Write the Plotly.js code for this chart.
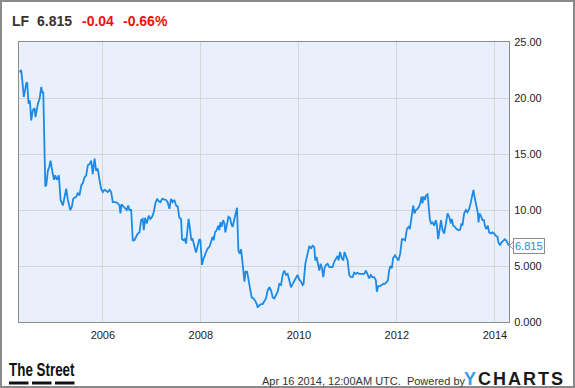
<!DOCTYPE html>
<html>
<head>
<meta charset="utf-8">
<script src="https://cdn.plot.ly/plotly-3.0.1.min.js"></script>
<style>
  html, body { margin: 0; padding: 0; background: #ffffff; }
  #chart { width: 575px; height: 388px; }
</style>
</head>
<body>
<div id="chart"></div>
<script>
// ---- Data ----
// Dates as decimal years
const years = [
  2004.302,2004.336,2004.349,2004.389,2004.438,2004.459,2004.485,2004.512,2004.540,2004.573,
  2004.608,2004.628,2004.675,2004.710,2004.744,2004.765,2004.785,2004.811,2004.826,2004.846,
  2004.879,2004.907,2004.934,2004.968,2005.001,2005.030,2005.062,2005.103,2005.138,2005.185,
  2005.219,2005.254,2005.286,2005.335,2005.368,2005.397,2005.458,2005.490,2005.525,2005.560,
  2005.592,2005.627,2005.662,2005.694,2005.729,2005.764,2005.796,2005.831,2005.865,2005.898,
  2005.933,2005.967,2006.000,2006.035,2006.102,2006.137,2006.171,2006.204,2006.259,2006.306,
  2006.340,2006.361,2006.381,2006.422,2006.457,2006.489,2006.518,2006.544,2006.579,2006.612,
  2006.646,2006.681,2006.714,2006.748,2006.783,2006.815,2006.836,2006.864,2006.897,2006.938,
  2006.972,2007.007,2007.040,2007.074,2007.109,2007.142,2007.176,2007.211,2007.258,2007.293,
  2007.325,2007.360,2007.394,2007.427,2007.462,2007.496,2007.529,2007.564,2007.598,2007.619,
  2007.645,2007.672,2007.700,2007.733,2007.753,2007.782,2007.808,2007.835,2007.870,2007.904,
  2007.937,2007.971,2007.992,2008.026,2008.059,2008.073,2008.108,2008.141,2008.175,2008.210,
  2008.243,2008.263,2008.291,2008.324,2008.359,2008.379,2008.400,2008.426,2008.455,2008.481,
  2008.501,2008.528,2008.563,2008.597,2008.618,2008.650,2008.685,2008.720,2008.740,2008.767,
  2008.793,2008.822,2008.842,2008.868,2008.889,2008.915,2008.944,2008.977,2009.005,2009.038,
  2009.072,2009.107,2009.140,2009.160,2009.195,2009.229,2009.262,2009.297,2009.331,2009.364,
  2009.398,2009.433,2009.466,2009.500,2009.535,2009.568,2009.602,2009.637,2009.670,2009.704,
  2009.739,2009.772,2009.806,2009.841,2009.874,2009.908,2009.943,2009.975,2010.010,2010.045,
  2010.077,2010.098,2010.132,2010.159,2010.194,2010.214,2010.249,2010.281,2010.316,2010.336,
  2010.363,2010.391,2010.418,2010.444,2010.473,2010.499,2010.526,2010.554,2010.587,2010.622,
  2010.656,2010.689,2010.724,2010.758,2010.791,2010.811,2010.840,2010.872,2010.907,2010.934,
  2010.962,2010.995,2011.030,2011.064,2011.097,2011.131,2011.166,2011.199,2011.233,2011.268,
  2011.301,2011.335,2011.370,2011.403,2011.437,2011.472,2011.504,2011.539,2011.574,2011.594,
  2011.621,2011.655,2011.688,2011.723,2011.757,2011.790,2011.818,2011.845,2011.871,2011.900,
  2011.926,2011.967,2011.994,2012.035,2012.069,2012.104,2012.130,2012.171,2012.206,2012.238,
  2012.267,2012.300,2012.334,2012.361,2012.389,2012.422,2012.456,2012.483,2012.503,2012.524,
  2012.544,2012.573,2012.593,2012.626,2012.646,2012.675,2012.701,2012.728,2012.762,2012.797,
  2012.817,2012.844,2012.864,2012.899,2012.932,2012.966,2013.001,2013.034,2013.068,2013.103,
  2013.123,2013.150,2013.184,2013.217,2013.258,2013.292,2013.319,2013.339,2013.374,2013.409,
  2013.441,2013.476,2013.510,2013.543,2013.563,2013.592,2013.625,2013.653,2013.666,2013.686,
  2013.715,2013.747,2013.776,2013.802,2013.829,2013.857,2013.884,2013.918,2013.951,2013.986,
  2014.020,2014.053,2014.073,2014.108,2014.134,2014.169,2014.203,2014.230,2014.288
];
// LF share price (USD)
const price = [
  22.3,22.5,22.0,20.1,21.3,21.4,19.5,19.8,18.0,18.9,
  19.1,18.3,19.5,19.9,21.0,20.5,20.5,15.0,12.1,12.2,
  13.5,13.8,14.4,13.5,12.7,13.1,12.7,13.1,10.9,10.4,
  11.2,11.9,10.9,10.0,10.3,11.0,11.2,11.5,11.3,12.2,
  12.4,12.9,13.1,14.0,14.1,14.4,13.2,14.6,13.5,13.7,
  12.7,11.9,11.6,11.8,11.6,11.8,11.6,10.7,10.7,10.6,
  10.4,9.7,10.5,10.3,10.1,10.0,10.4,10.0,10.0,7.3,
  7.3,7.7,7.9,8.0,9.1,9.2,8.2,9.3,8.8,9.5,
  9.2,9.4,9.8,10.6,11.0,10.8,10.7,11.0,10.9,10.9,
  10.7,10.1,11.0,10.7,10.9,10.4,10.3,9.3,9.2,7.4,
  7.3,7.4,7.0,8.5,9.2,8.3,7.3,7.4,6.7,6.2,
  6.8,7.4,7.3,5.1,5.7,5.8,6.25,6.55,6.7,7.1,
  7.6,7.3,8.0,8.2,8.6,8.2,8.9,8.5,9.1,8.8,
  8.0,8.6,9.4,9.3,8.8,8.5,9.2,9.8,10.2,6.4,
  6.1,6.5,5.2,4.6,3.6,4.5,4.5,3.6,3.1,2.2,
  2.1,1.9,1.6,1.3,1.5,1.6,1.6,1.9,2.1,2.8,
  3.1,2.8,2.2,2.1,2.5,2.7,3.4,3.3,4.2,4.6,
  4.2,4.3,3.7,3.1,3.4,3.7,3.9,4.2,3.8,3.6,
  3.3,3.4,5.2,5.7,6.4,6.8,6.55,6.8,6.7,5.5,
  5.8,5.2,4.6,5.2,4.8,4.0,4.8,5.1,5.2,4.9,
  4.9,4.9,5.4,5.7,5.9,5.5,6.25,5.75,5.5,6.25,
  5.95,5.5,4.2,4.0,4.0,4.4,4.3,4.4,4.3,4.3,
  4.3,4.3,4.6,4.2,3.9,4.2,4.0,4.0,3.7,2.7,
  3.2,3.2,3.3,3.4,3.4,3.6,3.7,4.6,5.0,4.8,
  5.7,5.95,5.75,5.5,6.1,7.4,7.4,7.3,8.3,8.5,
  8.3,9.4,10.4,9.7,10.0,10.1,10.3,10.7,11.2,10.6,
  11.2,10.9,11.3,11.4,10.7,9.1,8.8,8.9,8.6,9.1,
  8.6,7.4,8.0,9.1,8.2,7.9,8.8,9.7,9.4,8.8,
  9.2,8.6,8.5,8.3,8.2,8.25,8.8,8.6,9.7,10.0,
  9.8,10.1,10.7,11.3,11.8,11.0,10.4,9.7,8.9,9.7,
  9.5,9.1,9.1,8.5,8.3,8.6,8.0,7.9,8.0,7.9,
  7.7,7.6,7.1,6.85,7.1,7.3,7.4,7.3,6.815
];

const ticker = "LF";
const lastPrice = "6.815";
const change = "-0.04";
const changePct = "-0.66%";
const xTickVals = ["2006-01-01","2008-01-01","2010-01-01","2012-01-01","2014-01-01"];
const xTickLabels = ["2006","2008","2010","2012","2014"];
const yTickVals = [0,5,10,15,20,25];
const yTickLabels = ["0.000","5.000","10.00","15.00","20.00","25.00"];
const xRange = ["2004-04-16","2014-04-16"];
const footerText = "Apr 16 2014, 12:00AM UTC.  Powered by";

// ---- helpers ----
function decYearToISO(y) {
  const yr = Math.floor(y);
  const start = Date.UTC(yr, 0, 1);
  const end = Date.UTC(yr + 1, 0, 1);
  const d = new Date(start + (y - yr) * (end - start));
  return d.toISOString().slice(0, 10);
}
const dates = years.map(decYearToISO);

// pixel -> paper helpers for decorations (plot area: x 19..509, y 42..322)
const W = 575, H = 388, ML = 19, MR = 66, MT = 42, MB = 66;
const PW = W - ML - MR, PH = H - MT - MB;
const px = x => (x - ML) / PW;
const py = y => (H - MB - y) / PH;

const font = "Liberation Sans, Arial, Helvetica, sans-serif";
const lineBlue = "#1d8ae8";

const trace = {
  type: "scatter",
  mode: "lines",
  x: dates,
  y: price,
  line: { color: lineBlue, width: 1.8 },
  hoverinfo: "x+y"
};

const lastY = price[price.length - 1];
const yFrac = lastY / 25;

const layout = {
  width: W,
  height: H,
  margin: { l: ML, r: MR, t: MT, b: MB, pad: 0 },
  paper_bgcolor: "#ffffff",
  plot_bgcolor: "#e9f0fb",
  showlegend: false,
  font: { family: font, size: 11, color: "#222222" },
  xaxis: {
    type: "date",
    range: xRange,
    tickvals: xTickVals,
    ticktext: xTickLabels,
    showgrid: true,
    gridcolor: "#d6d6d6",
    gridwidth: 1,
    showline: true,
    linecolor: "#8c8c8c",
    linewidth: 1,
    mirror: true,
    ticks: "",
    ticklabelstandoff: 3,
    tickfont: { family: font, size: 11, color: "#222222" },
    zeroline: false
  },
  yaxis: {
    side: "right",
    range: [0, 25],
    tickvals: yTickVals,
    ticktext: yTickLabels,
    showgrid: true,
    gridcolor: "#d6d6d6",
    gridwidth: 1,
    showline: true,
    linecolor: "#8c8c8c",
    linewidth: 1,
    mirror: true,
    ticks: "",
    ticklabelstandoff: 2,
    tickfont: { family: font, size: 11, color: "#222222" },
    zeroline: false
  },
  shapes: [
    // outer frame of the picture
    { type: "rect", xref: "paper", yref: "paper",
      x0: px(1), x1: px(574), y0: py(387), y1: py(1),
      line: { color: "#8a8a8a", width: 2 }, fillcolor: "rgba(0,0,0,0)" },
    // chevron for last value label
    { type: "path", xref: "paper", yref: "paper",
      path: "M " + px(513.5) + " " + (yFrac + 4 / PH) + " L " + px(509.5) + " " + yFrac + " L " + px(513.5) + " " + (yFrac - 4 / PH),
      line: { color: "#8c8c8c", width: 1 } },
    // The Street logo dashes
    { type: "line", xref: "paper", yref: "paper", x0: px(9), x1: px(28.5), y0: py(383), y1: py(383), line: { color: "#111111", width: 3 } },
    { type: "line", xref: "paper", yref: "paper", x0: px(32), x1: px(51.5), y0: py(383), y1: py(383), line: { color: "#111111", width: 3 } },
    { type: "line", xref: "paper", yref: "paper", x0: px(55), x1: px(74.5), y0: py(383), y1: py(383), line: { color: "#111111", width: 3 } }
  ],
  annotations: [
    { xref: "paper", yref: "paper", x: px(10), y: py(21), xanchor: "left", yanchor: "middle",
      text: "<b>" + ticker + "</b>", showarrow: false, font: { family: font, size: 14, color: "#333333" } },
    { xref: "paper", yref: "paper", x: px(34.5), y: py(21), xanchor: "left", yanchor: "middle",
      text: "<b>" + lastPrice + "</b>", showarrow: false, font: { family: font, size: 14, color: "#333333" } },
    { xref: "paper", yref: "paper", x: px(80), y: py(21), xanchor: "left", yanchor: "middle",
      text: "<b>" + change + "</b>", showarrow: false, font: { family: font, size: 14, color: "#ee1111" } },
    { xref: "paper", yref: "paper", x: px(121), y: py(21), xanchor: "left", yanchor: "middle",
      text: "<b>" + changePct + "</b>", showarrow: false, font: { family: font, size: 14, color: "#ee1111" } },
    // last value label
    { xref: "paper", yref: "paper", x: px(513), y: yFrac, xanchor: "left", yanchor: "middle",
      text: lastPrice, showarrow: false, bgcolor: "#ffffff", bordercolor: "#8c8c8c",
      borderwidth: 1, borderpad: 1, font: { family: font, size: 11, color: "#1d8ae8" } },
    // footer
    { xref: "paper", yref: "paper", x: px(7), y: py(369), xanchor: "left", yanchor: "middle",
      text: "<b>The Street</b>", showarrow: false, name: "logo",
      font: { family: font, size: 19, color: "#111111" } },
    { xref: "paper", yref: "paper", x: px(260), y: py(380.5), xanchor: "left", yanchor: "middle",
      text: footerText, showarrow: false, font: { family: font, size: 11, color: "#333333" } },
    { xref: "paper", yref: "paper", x: px(462), y: py(378.5), xanchor: "left", yanchor: "middle",
      text: "<span style='letter-spacing:2px'><span style='color:#3a9be6'><b>Y</b></span><b>CHARTS</b></span>", showarrow: false,
      font: { family: font, size: 18, color: "#1a1a1a" } }
  ]
};

Plotly.newPlot("chart", [trace], layout, { displayModeBar: false, staticPlot: true }).then(function (gd) {
  // condense the "The Street" logo text horizontally to the logo's width
  const texts = gd.querySelectorAll(".annotation-text");
  texts.forEach(function (t) {
    if (t.textContent.trim() === "The Street") {
      const bb = t.getBBox();
      const sx = 66 / bb.width;
      t.setAttribute("transform",
        "translate(" + bb.x + ",0) scale(" + sx + ",1) translate(" + (-bb.x) + ",0)");
    }
  });
});
</script>
</body>
</html>
